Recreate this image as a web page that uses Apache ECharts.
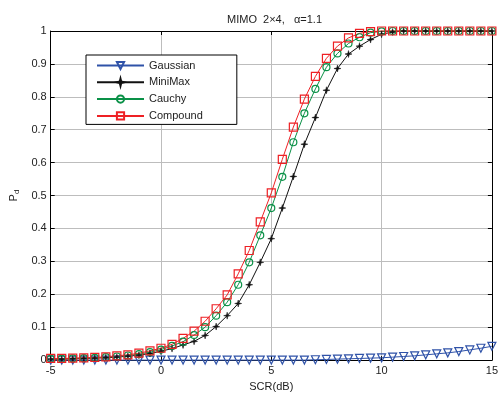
<!DOCTYPE html>
<html>
<head>
<meta charset="utf-8">
<script src="https://cdn.jsdelivr.net/npm/echarts@6/dist/echarts.min.js"></script>
<style>
  html, body { margin: 0; padding: 0; background: #fff; }
  #chart { width: 501px; height: 397px; }
</style>
</head>
<body>
<div id="chart"></div>
<script>
const scr = [-5, -4.5, -4, -3.5, -3, -2.5, -2, -1.5, -1, -0.5, 0, 0.5, 1, 1.5, 2, 2.5, 3, 3.5, 4, 4.5,
  5, 5.5, 6, 6.5, 7, 7.5, 8, 8.5, 9, 9.5, 10, 10.5, 11, 11.5, 12, 12.5, 13, 13.5, 14, 14.5, 15]

const gaussian = [0, 0, 0, 0, 0, 0, 0, 0, 0, 0, 0, 0, 0, 0, 0, 0, 0, 0, 0, 0,
  0, 0, 0, 0, 0.001, 0.002, 0.003, 0.004, 0.005, 0.006, 0.007, 0.009, 0.011, 0.013, 0.016, 0.019, 0.022, 0.026, 0.031, 0.036, 0.042]
const minimax = [0.003, 0.003, 0.004, 0.005, 0.006, 0.007, 0.009, 0.012, 0.015, 0.02, 0.027, 0.035, 0.046, 0.057, 0.075, 0.102, 0.135, 0.172, 0.229, 0.297,
  0.369, 0.462, 0.558, 0.656, 0.737, 0.82, 0.886, 0.93, 0.954, 0.974, 0.99, 0.997, 1, 1, 1, 1, 1, 1, 1, 1, 1]
const cauchy = [0.004, 0.004, 0.005, 0.006, 0.007, 0.009, 0.011, 0.014, 0.018, 0.024, 0.032, 0.043, 0.056, 0.076, 0.1, 0.135, 0.176, 0.229, 0.297, 0.379,
  0.462, 0.557, 0.662, 0.75, 0.824, 0.89, 0.932, 0.962, 0.981, 0.995, 0.999, 1, 1, 1, 1, 1, 1, 1, 1, 1, 1]
const compound = [0.005, 0.005, 0.006, 0.007, 0.008, 0.01, 0.013, 0.016, 0.021, 0.028, 0.036, 0.048, 0.066, 0.088, 0.118, 0.156, 0.198, 0.262, 0.333, 0.42,
  0.508, 0.61, 0.708, 0.793, 0.862, 0.917, 0.954, 0.979, 0.993, 0.998, 1, 1, 1, 1, 1, 1, 1, 1, 1, 1, 1]

const xTicks = [-5, 0, 5, 10, 15]
const yTicks = [0, 0.1, 0.2, 0.3, 0.4, 0.5, 0.6, 0.7, 0.8, 0.9, 1]

const font = 'Liberation Sans, Arial, sans-serif'
const pairs = (ys) => scr.map((x, i) => [x, ys[i]])

// little 4-armed star, close to matlab's '*' marker at this size
const starPath = 'path://M5,0 L6,4 L10,5 L6,6 L5,10 L4,6 L0,5 L4,4 Z'

const chart = echarts.init(document.getElementById('chart'), null, { renderer: 'canvas' })

const frameAxis = {
  axisLine: { show: true, onZero: false, lineStyle: { color: '#000', width: 1 } },
  axisTick: { show: true, inside: true, length: 4, lineStyle: { color: '#000' } },
  axisLabel: { show: false },
  splitLine: { show: false },
}

function line(name, data, color, symbol, size, filled, rotate) {
  return {
    name,
    type: 'line',
    data: pairs(data),
    clip: false,
    symbol,
    symbolSize: size,
    symbolRotate: rotate || 0,
    showAllSymbol: true,
    lineStyle: { color, width: 1 },
    itemStyle: filled
      ? { color, borderColor: color, borderWidth: 0.5 }
      : { color: 'rgba(255,255,255,0)', borderColor: color, borderWidth: 1.2 },
    emphasis: { disabled: true },
    animation: false,
  }
}

chart.setOption({
  backgroundColor: '#fff',
  animation: false,
  title: {
    text: 'MIMO  2×4,   α=1.1',
    left: 222,
    top: 9,
    textStyle: { fontFamily: font, fontSize: 11, fontWeight: 'normal', color: '#222' },
  },
  legend: {
    orient: 'vertical',
    left: 86,
    top: 55,
    padding: [5, 34, 3, 10],
    itemWidth: 47,
    itemHeight: 9,
    itemGap: 5.8,
    borderColor: '#000',
    borderWidth: 1,
    backgroundColor: '#fff',
    textStyle: { fontFamily: font, fontSize: 11, color: '#222' },
    data: ['Gaussian', 'MiniMax', 'Cauchy', 'Compound'],
  },
  grid: { left: 49, right: 2, top: 31, bottom: 30 },
  xAxis: [
    {
      type: 'value',
      min: -5,
      max: 15,
      interval: 5,
      name: 'SCR(dB)',
      nameLocation: 'middle',
      nameGap: 18,
      nameTextStyle: { fontFamily: font, fontSize: 11, color: '#222' },
      axisLine: { show: true, onZero: false, lineStyle: { color: '#000', width: 1 } },
      axisTick: { show: true, inside: true, length: 4, lineStyle: { color: '#000' } },
      axisLabel: {
        fontFamily: font, fontSize: 11, color: '#222', margin: 5,
        customValues: xTicks,
      },
      splitLine: { show: true, lineStyle: { color: '#bdbdbd', width: 1 } },
    },
    Object.assign({ type: 'value', position: 'top', min: -5, max: 15, interval: 5 }, frameAxis),
  ],
  yAxis: [
    {
      type: 'value',
      min: 0,
      max: 1,
      interval: 0.1,
      name: '{p|P}{d|d}',
      nameLocation: 'middle',
      nameGap: 30,
      nameTextStyle: {
        fontFamily: font, fontSize: 11, color: '#222',
        rich: {
          p: { fontFamily: font, fontSize: 11, color: '#222' },
          d: { fontFamily: font, fontSize: 8, color: '#222', verticalAlign: 'bottom', padding: [6, 0, 0, 0] },
        },
      },
      axisLine: { show: true, onZero: false, lineStyle: { color: '#000', width: 1 } },
      axisTick: { show: true, inside: true, length: 4, lineStyle: { color: '#000' } },
      axisLabel: {
        fontFamily: font, fontSize: 11, color: '#222', margin: 4,
        customValues: yTicks,
      },
      splitLine: { show: true, lineStyle: { color: '#bdbdbd', width: 1 } },
    },
    Object.assign({ type: 'value', position: 'right', min: 0, max: 1, interval: 0.1 }, frameAxis),
  ],
  series: [
    line('Gaussian', gaussian, '#2f52a8', 'triangle', 8, false, 180),
    line('MiniMax', minimax, '#111', starPath, 7, true),
    line('Cauchy', cauchy, '#0a9147', 'circle', 7, false),
    line('Compound', compound, '#ee2024', 'rect', 8, false),
  ],
})
</script>
</body>
</html>
